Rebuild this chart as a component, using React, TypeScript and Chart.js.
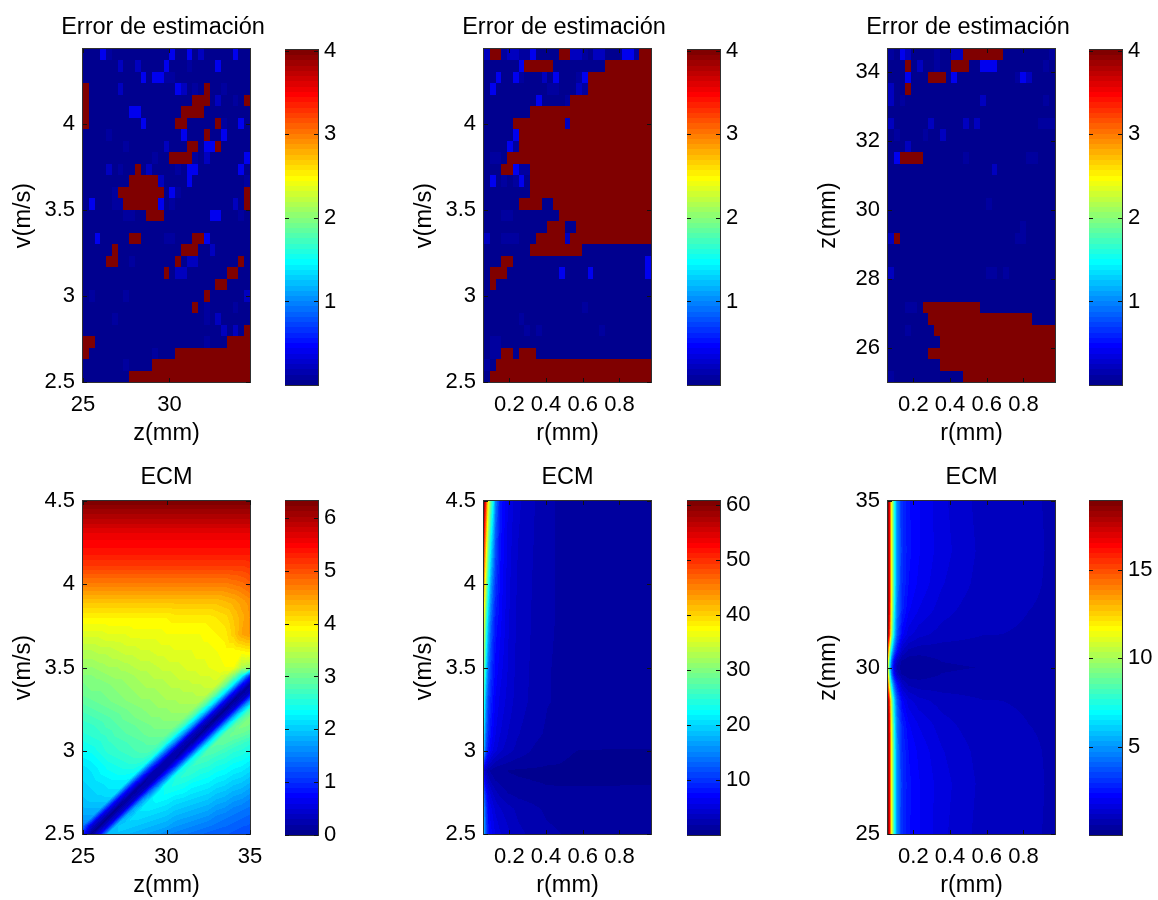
import React, { useEffect, useRef } from "react";
import { Chart, registerables } from "chart.js";
Chart.register(...registerables);

const FONT = "'Liberation Sans', Arial, sans-serif";

// ---------- values ----------
const KIND_VALUES: Record<string, number> = { f: 0.08, m: 0.22, b: 0.42, R: 4 };
const ERROR_BASE = 0.02;

// top row first; "col+kind" or "from:to+kind"
const errorVZ = [
  "3b 4f 15b 18b 20m 26b", "6m 9m 14b 18f 23b", "10b 12b 13b 14f 15f", "0R 6m 16b 17m 19f 21R 24f",
  "0R 19:21R 23m 26f 28R", "0R 8b 9b 17:20R", "0R 10b 16R 17R 23R 24f 27b", "4f 17b 21R 24b",
  "7f 14m 18R 19R 21b 22b 23R", "12f 15:18R 19f 21m 28b", "4m 6f 9R 11m 16f 18b 19b 27b", "8:12R 13m 18b 28f",
  "5f 6:13R 15b 16f 28R", "1b 5f 6f 7:12R 13b 15f 26m 28R", "7f 8f 11:13R 22b 23b 27f", "",
  "2b 8R 9R 14f 15f 19R 20R 21b", "5R 17:19R 22m", "4R 5R 8f 16R 18m 19m 27R", "14R 16m 17m 25R 26R",
  "23R 24R", "1f 7f 21R 28m", "19R 21f 26f", "5f 21f 23m", "24m 26m 28R", "0R 1R 21f 25:28R",
  "0R 12f 16:28R", "7f 12:28R", "8:28R",
];
const errorVR = [
  "0m 1R 2R 3f 4m 5m 6f 7f 8b 13R 14R 15m 16m 17f 19m 20m 24b 25b 26f 27R 28R", "6b 7:11R 21:28R",
  "2b 5b 6f 10m 12b 16f 17b 18:28R", "1b 11f 12f 16m 17f 18:28R", "9b 14f 15:28R", "8:28R", "5:13R 14m 15:28R",
  "5b 6:28R", "4b 5f 6:28R", "1f 2f 4:28R", "3R 4R 5b 6f 7f 8:28R", "1b 3f 5f 6b 8:28R", "8:28R", "6:9R 12:28R",
  "3f 4f 13:28R", "11:13R 16:28R", "0m 3f 4f 5f 9:13R 14m 15:28R", "8:16R", "3R 4R 28b", "1:3R 13b 18b 28b", "1R",
  "", "17f", "6f", "7f 9f 20f", "1f 2f", "1f 2f 3R 4R 6:8R", "0f 2:28R", "1:28R",
];
const errorZR = [
  "0f 2b 3m 8f 11m 12m 13:19R 28f", "3R 5m 8f 11:13R 16b 17b 18b 27f", "3b 7:9R 11b 22f 23b 24m", "0m 3R",
  "0m 2f 16m 27f", "", "0m 7m 13m 15m 26f 27f 28f", "1f 6f 9m", "3m", "1b 2:5R 13f 24f 25f", "18m", "", "", "17f", "",
  "23f", "0m 1R 22f 23f", "", "", "0m 17f 18f 20f", "", "", "3f 4f 6:15R", "7:24R", "3f 8:28R", "9:28R", "7:28R",
  "9:28R", "0f 13:28R",
];

const ecmZ = [25, 25.5, 26, 26.5, 27, 27.5, 28, 28.5, 29, 29.5, 30, 30.5, 31, 31.5, 32, 32.5, 33, 33.5, 34, 34.5, 35];
const ecmV = [2.5, 2.55, 2.6, 2.65, 2.7, 2.75, 2.8, 2.85, 2.9, 2.95, 3, 3.05, 3.1, 3.15, 3.2, 3.25, 3.3, 3.35, 3.4, 3.45, 3.5, 3.6, 3.7, 3.8, 3.9, 4, 4.1, 4.2, 4.3, 4.4, 4.5];
const ecmVZ = [
  [0.9, 0.06, 0.7, 1.95, 1.95, 1.9, 1.85, 1.8, 1.75, 1.7, 1.6, 1.55, 1.5, 1.45, 1.4, 1.35, 1.3, 1.3, 1.25, 1.2, 1.2],
  [1.5, 0.5, 0.03, 0.6, 1.95, 2.05, 2.0, 1.95, 1.9, 1.85, 1.8, 1.7, 1.65, 1.6, 1.55, 1.5, 1.45, 1.4, 1.35, 1.3, 1.27],
  [1.75, 1.75, 0.55, 0.02, 0.52, 1.85, 2.1, 2.1, 2.05, 2.0, 1.95, 1.85, 1.8, 1.75, 1.7, 1.65, 1.55, 1.5, 1.45, 1.4, 1.35],
  [1.85, 1.85, 1.85, 0.65, 0.05, 0.44, 1.75, 2.2, 2.2, 2.15, 2.1, 2.0, 1.95, 1.9, 1.85, 1.8, 1.7, 1.65, 1.55, 1.5, 1.45],
  [1.95, 2.0, 2.0, 2.0, 0.72, 0.09, 0.4, 1.65, 2.25, 2.3, 2.25, 2.15, 2.1, 2.05, 2.0, 1.95, 1.85, 1.8, 1.7, 1.65, 1.55],
  [2.0, 2.05, 2.1, 2.15, 2.15, 0.82, 0.12, 0.35, 1.5, 2.3, 2.4, 2.35, 2.3, 2.2, 2.15, 2.1, 2.0, 1.95, 1.85, 1.8, 1.7],
  [2.05, 2.1, 2.15, 2.2, 2.2, 2.2, 0.9, 0.16, 0.3, 1.35, 2.4, 2.5, 2.45, 2.35, 2.3, 2.25, 2.15, 2.1, 2.0, 1.95, 1.85],
  [2.1, 2.15, 2.25, 2.3, 2.35, 2.35, 2.3, 1.05, 0.2, 0.26, 1.25, 2.45, 2.6, 2.55, 2.45, 2.4, 2.3, 2.25, 2.15, 2.1, 2.0],
  [2.15, 2.2, 2.3, 2.4, 2.45, 2.5, 2.5, 2.4, 1.15, 0.24, 0.23, 1.12, 2.4, 2.65, 2.6, 2.55, 2.45, 2.4, 2.3, 2.25, 2.15],
  [2.25, 2.3, 2.4, 2.5, 2.55, 2.6, 2.65, 2.65, 2.5, 1.3, 0.27, 0.19, 1.0, 2.35, 2.75, 2.7, 2.6, 2.55, 2.45, 2.4, 2.3],
  [2.35, 2.4, 2.5, 2.6, 2.65, 2.7, 2.75, 2.8, 2.8, 2.55, 1.4, 0.31, 0.15, 0.88, 2.25, 2.85, 2.8, 2.7, 2.6, 2.55, 2.45],
  [2.45, 2.5, 2.55, 2.65, 2.7, 2.75, 2.8, 2.85, 2.9, 2.9, 2.54, 1.55, 0.36, 0.11, 0.8, 2.15, 2.9, 2.9, 2.8, 2.7, 2.6],
  [2.55, 2.6, 2.65, 2.7, 2.8, 2.85, 2.9, 2.95, 3.0, 3.0, 3.0, 2.6, 1.65, 0.4, 0.08, 0.7, 2.1, 2.9, 3.0, 2.95, 2.85],
  [2.6, 2.65, 2.7, 2.8, 2.85, 2.9, 2.95, 3.0, 3.05, 3.1, 3.1, 3.1, 2.7, 1.78, 0.45, 0.04, 0.62, 2.0, 2.86, 3.1, 3.05],
  [2.7, 2.75, 2.8, 2.85, 2.9, 3.0, 3.05, 3.1, 3.15, 3.15, 3.2, 3.2, 3.2, 2.78, 1.85, 0.54, 0.02, 0.54, 1.9, 2.78, 3.1],
  [2.8, 2.85, 2.9, 2.95, 3.0, 3.05, 3.1, 3.15, 3.2, 3.25, 3.25, 3.3, 3.3, 3.3, 2.84, 2.0, 0.62, 0.04, 0.47, 1.8, 2.7],
  [2.9, 2.95, 3.0, 3.05, 3.1, 3.15, 3.2, 3.25, 3.25, 3.3, 3.35, 3.35, 3.4, 3.4, 3.4, 2.92, 2.1, 0.7, 0.07, 0.4, 1.65],
  [3.0, 3.05, 3.05, 3.1, 3.15, 3.2, 3.25, 3.3, 3.3, 3.35, 3.4, 3.4, 3.45, 3.45, 3.5, 3.5, 3.0, 2.2, 0.78, 0.11, 0.36],
  [3.05, 3.1, 3.1, 3.15, 3.2, 3.25, 3.3, 3.35, 3.4, 3.4, 3.45, 3.5, 3.5, 3.55, 3.55, 3.6, 3.6, 3.08, 2.3, 0.88, 0.15],
  [3.15, 3.15, 3.2, 3.25, 3.3, 3.3, 3.35, 3.4, 3.45, 3.5, 3.5, 3.55, 3.6, 3.6, 3.65, 3.65, 3.7, 3.6, 3.14, 2.4, 1.0],
  [3.25, 3.25, 3.3, 3.35, 3.35, 3.4, 3.45, 3.5, 3.5, 3.55, 3.6, 3.6, 3.65, 3.7, 3.7, 3.75, 3.8, 3.85, 3.85, 3.4, 3.3],
  [3.45, 3.45, 3.5, 3.5, 3.55, 3.6, 3.6, 3.65, 3.65, 3.7, 3.7, 3.75, 3.75, 3.75, 3.8, 3.8, 3.85, 3.9, 3.9, 3.95, 4.0],
  [3.7, 3.7, 3.7, 3.75, 3.75, 3.75, 3.8, 3.8, 3.8, 3.8, 3.85, 3.85, 3.85, 3.85, 3.85, 3.9, 3.95, 4.0, 4.2, 4.45, 4.55],
  [3.95, 3.95, 3.95, 3.95, 3.95, 3.95, 3.95, 3.95, 3.95, 3.95, 3.95, 4.0, 4.0, 4.0, 4.0, 4.0, 4.05, 4.1, 4.25, 4.4, 4.55],
  [4.3, 4.3, 4.3, 4.3, 4.3, 4.3, 4.3, 4.3, 4.3, 4.3, 4.3, 4.3, 4.3, 4.3, 4.3, 4.3, 4.3, 4.35, 4.4, 4.5, 4.6],
  [4.7, 4.7, 4.7, 4.7, 4.7, 4.7, 4.7, 4.7, 4.7, 4.7, 4.7, 4.7, 4.7, 4.7, 4.7, 4.7, 4.7, 4.7, 4.75, 4.8, 4.9],
  [5.1, 5.1, 5.1, 5.1, 5.1, 5.1, 5.1, 5.1, 5.1, 5.1, 5.1, 5.1, 5.1, 5.1, 5.1, 5.1, 5.1, 5.1, 5.1, 5.1, 5.15],
  [5.4, 5.4, 5.4, 5.4, 5.4, 5.4, 5.4, 5.4, 5.4, 5.4, 5.4, 5.4, 5.4, 5.4, 5.4, 5.4, 5.4, 5.4, 5.4, 5.4, 5.4],
  [5.6, 5.6, 5.6, 5.6, 5.6, 5.6, 5.6, 5.6, 5.6, 5.6, 5.6, 5.6, 5.6, 5.6, 5.6, 5.6, 5.6, 5.6, 5.6, 5.6, 5.6],
  [5.95, 5.95, 5.95, 5.95, 5.95, 5.95, 5.95, 5.95, 5.95, 5.95, 5.95, 5.95, 5.95, 5.95, 5.95, 5.95, 5.95, 5.95, 5.95, 5.95, 5.95],
  [6.3, 6.3, 6.3, 6.3, 6.3, 6.3, 6.3, 6.3, 6.3, 6.3, 6.3, 6.3, 6.3, 6.3, 6.3, 6.3, 6.3, 6.3, 6.3, 6.3, 6.3],
];

const ecm2R = [0.062, 0.073, 0.0855, 0.0996, 0.1128, 0.125, 0.1486, 0.1956, 0.2474, 0.4074, 0.5956, 0.972];
const ecm2V = [2.5, 2.65, 2.75, 2.82, 2.88, 2.92, 3, 3.1, 3.3, 3.5, 3.75, 4, 4.25, 4.5];
const ecmVR = [
  [18, 11.5, 8, 7, 6.3, 5.6, 4.9, 4, 3.1, 2.1, 1.6, 1.5],
  [16, 10.5, 7.2, 6, 5.2, 4.5, 3.9, 3.2, 2.6, 1.7, 1.4, 1.4],
  [12, 8, 5.5, 4.4, 3.6, 3.1, 2.5, 1.8, 1.5, 1.1, 1.05, 1.05],
  [8, 5, 3.5, 2.6, 2.2, 1.9, 1.6, 1.2, 1.05, 0.85, 0.85, 0.9],
  [5, 3.2, 2.2, 1.7, 1.4, 1.2, 1.1, 0.9, 0.8, 0.75, 0.7, 0.7],
  [9, 6, 4.2, 3.4, 2.8, 2.4, 2.1, 1.7, 1.4, 1.0, 0.85, 0.85],
  [18, 11, 8, 6.5, 5.5, 5, 4, 3.2, 2.5, 1.1, 0.92, 0.9],
  [21, 13, 9.5, 7.5, 6.5, 5.7, 4.8, 3.7, 2.9, 1.7, 1.4, 1.3],
  [25, 16, 11, 9, 7.5, 6.5, 5.5, 4.3, 3.3, 1.95, 1.5, 1.4],
  [30, 21, 14, 10.5, 8.5, 7.3, 6.2, 4.6, 3.4, 1.95, 1.5, 1.4],
  [36, 26, 18, 13, 10, 8, 7, 4.8, 3.5, 2.0, 1.5, 1.4],
  [44, 33, 24, 17, 13, 10, 7.5, 5, 3.6, 2.0, 1.5, 1.4],
  [52, 41, 30, 22, 17, 12, 8, 5.2, 3.8, 2.0, 1.5, 1.4],
  [60, 50, 37, 28, 22, 15, 8.5, 5.5, 4, 2.0, 1.5, 1.4],
];

const ecm3R = [0.062, 0.0714, 0.0799, 0.0893, 0.0987, 0.111, 0.1382, 0.1749, 0.2295, 0.3566, 0.5749, 0.972];
const ecm3Z = [25, 26.5, 27.5, 28.3, 29, 29.5, 29.8, 30, 30.2, 30.5, 31, 31.7, 32.5, 33.5, 35];
const ecmZR = [
  [19, 16.5, 11.8, 9.5, 7, 4.7, 3, 2.4, 2.1, 1.55, 1.05, 0.85],
  [19, 16.5, 11.8, 9.5, 7, 4.7, 3.1, 2.45, 2.1, 1.6, 1.1, 0.85],
  [19, 16.5, 11.8, 9.5, 7, 4.7, 3, 2.35, 2.0, 1.5, 1.05, 0.85],
  [19, 16, 11.5, 9, 6.5, 4.5, 2.8, 2.1, 1.75, 1.3, 0.95, 0.85],
  [18.5, 15, 10.5, 8, 5.8, 3.9, 2.2, 1.6, 1.3, 1.05, 0.9, 0.85],
  [15, 10, 7, 5, 3.5, 2.4, 1.2, 0.8, 0.7, 0.72, 0.72, 0.8],
  [12.5, 7.8, 4.8, 3, 1.9, 1.1, 0.55, 0.42, 0.45, 0.6, 0.65, 0.72],
  [11.5, 7, 4, 2.4, 1.4, 0.8, 0.4, 0.3, 0.38, 0.55, 0.6, 0.7],
  [12.5, 7.8, 4.8, 3, 1.9, 1.1, 0.55, 0.42, 0.45, 0.6, 0.65, 0.72],
  [15, 10, 7, 5, 3.5, 2.4, 1.2, 0.8, 0.7, 0.72, 0.72, 0.8],
  [18.5, 15, 10.5, 8, 5.8, 3.9, 2.2, 1.6, 1.3, 1.05, 0.9, 0.85],
  [19, 16, 11.5, 9, 6.5, 4.5, 2.8, 2.1, 1.75, 1.3, 0.95, 0.85],
  [19, 16.5, 11.8, 9.5, 7, 4.7, 3, 2.35, 2.0, 1.5, 1.05, 0.85],
  [19, 16.5, 11.8, 9.5, 7, 4.7, 3.1, 2.45, 2.1, 1.6, 1.1, 0.85],
  [19, 16.5, 11.8, 9.5, 7, 4.7, 3, 2.4, 2.1, 1.55, 1.05, 0.85],
];

const colorLevels = [
  0, 1, 2, 3, 4, 5, 6, 7, 8, 9, 10, 11, 12, 13, 14, 15, 16, 17, 18, 19, 20, 21, 22, 23, 24, 25, 26, 27, 28, 29, 30, 31,
  32, 33, 34, 35, 36, 37, 38, 39, 40, 41, 42, 43, 44, 45, 46, 47, 48, 49, 50, 51, 52, 53, 54, 55, 56, 57, 58, 59, 60, 61, 62, 63,
];

const ticksZ5 = [25, 30];
const ticksZ = [25, 30, 35];
const ticksR = [0.2, 0.4, 0.6, 0.8];
const ticksV = [2.5, 3, 3.5, 4];
const ticksVfull = [2.5, 3, 3.5, 4, 4.5];
const ticksZtop = [26, 28, 30, 32, 34];

const barTicks4 = [1, 2, 3, 4];
const barTicksA = [0, 1, 2, 3, 4, 5, 6];
const barTicksB = [10, 20, 30, 40, 50, 60];
const barTicksC = [5, 10, 15];

// ---------- helpers ----------
const clamp01 = (t: number) => Math.max(0, Math.min(1, t));
const JET: string[] = colorLevels.map((k) => {
  const t = (k + 1) / 64;
  const c = (o: number) => Math.round(255 * clamp01(1.5 - Math.abs(4 * t - o)));
  return `rgb(${c(3)},${c(2)},${c(1)})`;
});
const jetFor = (v: number, lo: number, hi: number) =>
  JET[Math.max(0, Math.min(63, Math.floor(((v - lo) / (hi - lo)) * 64)))];

function parseError(rows: string[]): number[][] {
  return rows.map((row) => {
    const out: number[] = new Array(29).fill(ERROR_BASE);
    row.split(" ").filter(Boolean).forEach((tok) => {
      const m = tok.match(/^(\d+)(?::(\d+))?([fmbR])$/)!;
      const a = +m[1];
      const b = m[2] ? +m[2] : a;
      for (let c = a; c <= b; c++) out[c] = KIND_VALUES[m[3]];
    });
    return out;
  });
}

const edges = (lo: number, hi: number, n: number) => Array.from({ length: n + 1 }, (_, k) => lo + ((hi - lo) * k) / n);

type Mode = "flat" | "smooth" | "diagonal";
type Field = { mode: Mode; xs: number[]; ys: number[]; lo: number; hi: number };

// Draws the points of dataset 0 as heatmap cells through the chart's scales.
function fieldPlugin(f: Field) {
  return {
    id: "field",
    beforeDatasetsDraw(chart: any) {
      const { ctx, scales, chartArea } = chart;
      const pts: any[] = chart.data.datasets[0].data;
      const px = f.xs.map((v) => scales.x.getPixelForValue(v));
      const py = f.ys.map((v) => scales.y.getPixelForValue(v));
      ctx.save();
      ctx.beginPath();
      ctx.rect(chartArea.left, chartArea.top, chartArea.right - chartArea.left, chartArea.bottom - chartArea.top);
      ctx.clip();
      if (f.mode === "flat") {
        const nx = f.xs.length - 1;
        pts.forEach((p, k) => {
          const i = k % nx;
          const j = Math.floor(k / nx);
          const x0 = Math.round(px[i]);
          const x1 = Math.round(px[i + 1]);
          const y0 = Math.round(py[j]);
          const y1 = Math.round(py[j + 1]);
          ctx.fillStyle = jetFor(p.v, f.lo, f.hi);
          ctx.fillRect(x0, Math.min(y0, y1), x1 - x0, Math.abs(y1 - y0));
        });
      } else {
        const nx = f.xs.length;
        const at = (i: number, j: number) => pts[j * nx + i].v;
        for (let j = 0; j < f.ys.length - 1; j++) {
          for (let i = 0; i < nx - 1; i++) {
            const xa = Math.round(px[i]);
            const xb = Math.round(px[i + 1]);
            const yBottom = Math.round(py[j]);
            const yTop = Math.round(py[j + 1]);
            const a00 = at(i, j), a10 = at(i + 1, j), a01 = at(i, j + 1), a11 = at(i + 1, j + 1);
            for (let Y = yTop; Y < yBottom; Y++) {
              const s = (py[j] - (Y + 0.5)) / (py[j] - py[j + 1]);
              for (let X = xa; X < xb; X++) {
                const t = (X + 0.5 - px[i]) / (px[i + 1] - px[i]);
                let v: number;
                if (f.mode === "diagonal") {
                  // two triangles split along the rising diagonal, so the valley stays continuous
                  v = t >= s ? a00 + t * (a10 - a00) + s * (a11 - a10) : a00 + s * (a01 - a00) + t * (a11 - a01);
                } else {
                  v = (1 - s) * ((1 - t) * a00 + t * a10) + s * ((1 - t) * a01 + t * a11);
                }
                ctx.fillStyle = jetFor(v, f.lo, f.hi);
                ctx.fillRect(X, Y, 1, 1);
              }
            }
          }
        }
      }
      ctx.restore();
    },
    afterDatasetsDraw(chart: any) {
      const { ctx, scales, chartArea: a } = chart;
      ctx.save();
      ctx.strokeStyle = "#303030";
      ctx.lineWidth = 1;
      ctx.strokeRect(a.left - 0.5, a.top - 0.5, a.right - a.left + 1, a.bottom - a.top + 1);
      ctx.strokeStyle = "#111";
      ctx.beginPath();
      const len = 4;
      scales.y.ticks.forEach((t: any) => {
        const y = Math.round(scales.y.getPixelForValue(t.value)) + 0.5;
        ctx.moveTo(a.left, y);
        ctx.lineTo(a.left + len, y);
        ctx.moveTo(a.right, y);
        ctx.lineTo(a.right - len, y);
      });
      if (scales.x.options.display) {
        scales.x.ticks.forEach((t: any) => {
          const x = Math.round(scales.x.getPixelForValue(t.value)) + 0.5;
          ctx.moveTo(x, a.bottom);
          ctx.lineTo(x, a.bottom - len);
          ctx.moveTo(x, a.top);
          ctx.lineTo(x, a.top + len);
        });
      }
      ctx.stroke();
      ctx.restore();
    },
  };
}

const TICK_FONT = { family: FONT, size: 22 };
const LABEL_FONT = { family: FONT, size: 23.5, lineHeight: "24px" };

type Panel = {
  left: number; top: number; width: number; height: number;
  title: string; xLabel: string; yLabel: string;
  xs: number[]; ys: number[]; xTicks: number[]; yTicks: number[];
  mode: Mode; hi: number;
  points: { x: number; y: number; v: number }[];
};

function flatPoints(xs: number[], ys: number[], rows: number[][]) {
  // rows are listed top first; ys ascend
  const n = rows.length;
  const out: { x: number; y: number; v: number }[] = [];
  for (let j = 0; j < n; j++) {
    const row = rows[n - 1 - j];
    row.forEach((v, i) => out.push({ x: (xs[i] + xs[i + 1]) / 2, y: (ys[j] + ys[j + 1]) / 2, v }));
  }
  return out;
}
function smoothPoints(xs: number[], ys: number[], rows: number[][]) {
  const out: { x: number; y: number; v: number }[] = [];
  rows.forEach((row, j) => row.forEach((v, i) => out.push({ x: xs[i], y: ys[j], v })));
  return out;
}

const R_MIN = 0.062, R_MAX = 0.972;
const rEdges = edges(R_MIN, R_MAX, 29);
const zEdges = edges(25, 34.667, 29);
const vEdges = edges(2.5, 4.435, 29);
const zyEdges = edges(25, 34.68, 29);

const PANELS: Panel[] = [
  { left: 83, top: 49, width: 167, height: 333, title: "Error de estimación", xLabel: "z(mm)", yLabel: "v(m/s)", xs: zEdges, ys: vEdges, xTicks: ticksZ5, yTicks: ticksV, mode: "flat", hi: 4, points: flatPoints(zEdges, vEdges, parseError(errorVZ)) },
  { left: 484, top: 49, width: 167, height: 333, title: "Error de estimación", xLabel: "r(mm)", yLabel: "v(m/s)", xs: rEdges, ys: vEdges, xTicks: ticksR, yTicks: ticksV, mode: "flat", hi: 4, points: flatPoints(rEdges, vEdges, parseError(errorVR)) },
  { left: 888, top: 49, width: 167, height: 333, title: "Error de estimación", xLabel: "r(mm)", yLabel: "z(mm)", xs: rEdges, ys: zyEdges, xTicks: ticksR, yTicks: ticksZtop, mode: "flat", hi: 4, points: flatPoints(rEdges, zyEdges, parseError(errorZR)) },
  { left: 83, top: 501, width: 167, height: 333, title: "ECM", xLabel: "z(mm)", yLabel: "v(m/s)", xs: ecmZ, ys: ecmV, xTicks: ticksZ, yTicks: ticksVfull, mode: "diagonal", hi: 6.32, points: smoothPoints(ecmZ, ecmV, ecmVZ) },
  { left: 484, top: 501, width: 167, height: 333, title: "ECM", xLabel: "r(mm)", yLabel: "v(m/s)", xs: ecm2R, ys: ecm2V, xTicks: ticksR, yTicks: ticksVfull, mode: "smooth", hi: 60.7, points: smoothPoints(ecm2R, ecm2V, ecmVR) },
  { left: 888, top: 501, width: 167, height: 333, title: "ECM", xLabel: "r(mm)", yLabel: "z(mm)", xs: ecm3R, ys: ecm3Z, xTicks: ticksR, yTicks: ticksZ, mode: "smooth", hi: 18.9, points: smoothPoints(ecm3R, ecm3Z, ecmZR) },
];

const BARS = [
  { left: 285, top: 50, height: 335, hi: 4.01, ticks: barTicks4 },
  { left: 687, top: 50, height: 335, hi: 4.01, ticks: barTicks4 },
  { left: 1089, top: 50, height: 335, hi: 4.01, ticks: barTicks4 },
  { left: 285, top: 501, height: 334, hi: 6.32, ticks: barTicksA },
  { left: 687, top: 501, height: 334, hi: 60.7, ticks: barTicksB },
  { left: 1089, top: 501, height: 334, hi: 18.9, ticks: barTicksC },
];

const AXIS_W = 83;
const AXIS_H = 66;
const HEAD = 49;
const BAR_W = 33;
const BAR_AXIS = 46;
const BAR_PAD = 20;

// the canvas is wide enough on the right to centre the title where it stands
const rightPad = (p: Panel) => (p.title === "ECM" ? 83 : 76);

function panelBox(p: Panel) {
  return {
    left: p.left - AXIS_W,
    top: p.top - HEAD,
    width: AXIS_W + p.width + rightPad(p),
    height: HEAD + p.height + AXIS_H,
  };
}
function barBox(b: (typeof BARS)[number]) {
  return { left: b.left, top: b.top - BAR_PAD, width: BAR_W + BAR_AXIS, height: b.height + 2 * BAR_PAD };
}

function panelConfig(p: Panel): any {
  const setTicks = (list: number[]) => (s: any) => {
    s.ticks = list.map((value) => ({ value }));
  };
  const titleTop = p.title === "ECM" ? 14 : 16;
  return {
    type: "scatter",
    data: { datasets: [{ label: p.title, data: p.points, pointRadius: 0, showLine: false }] },
    options: {
      animation: false,
      responsive: false,
      devicePixelRatio: 1,
      layout: { padding: 0 },
      plugins: {
        legend: { display: false },
        tooltip: { enabled: false },
        title: {
          display: true,
          text: p.title,
          color: "#000",
          font: { family: FONT, size: 23.5, weight: "normal", lineHeight: "24px" },
          padding: { top: titleTop, bottom: HEAD - 24 - titleTop },
        },
      },
      scales: {
        x: {
          type: "linear",
          min: p.xs[0],
          max: p.xs[p.xs.length - 1],
          afterBuildTicks: setTicks(p.xTicks),
          afterFit: (s: any) => { s.height = AXIS_H; },
          grid: { display: false, drawTicks: false },
          border: { display: false },
          ticks: { autoSkip: false, maxRotation: 0, minRotation: 0, padding: 10, color: "#000", font: TICK_FONT, callback: (v: number) => String(v) },
          title: { display: true, text: p.xLabel, color: "#000", font: LABEL_FONT, padding: { top: 0, bottom: 2 } },
        },
        y: {
          type: "linear",
          min: p.ys[0],
          max: p.ys[p.ys.length - 1],
          afterBuildTicks: setTicks(p.yTicks),
          afterFit: (s: any) => { s.width = AXIS_W; },
          grid: { display: false, drawTicks: false },
          border: { display: false },
          ticks: { autoSkip: false, padding: 8, color: "#000", font: TICK_FONT, callback: (v: number) => String(v) },
          title: { display: true, text: p.yLabel, color: "#000", font: LABEL_FONT, padding: { top: 12, bottom: 0 } },
        },
        // empty right-hand axis: holds the plot area clear of the canvas edge without narrowing the title's box
        spacer: {
          type: "linear",
          position: "right",
          min: 0,
          max: 1,
          afterFit: (s: any) => { s.width = rightPad(p); },
          grid: { display: false, drawTicks: false },
          border: { display: false },
          ticks: { display: false },
        },
      },
    },
    plugins: [fieldPlugin({ mode: p.mode, xs: p.xs, ys: p.ys, lo: 0, hi: p.hi })],
  };
}

function barConfig(b: (typeof BARS)[number]): any {
  const ys = edges(0, b.hi, 64);
  const xs = [0, 1];
  const points = colorLevels.map((k) => ({ x: 0.5, y: (ys[k] + ys[k + 1]) / 2, v: (ys[k] + ys[k + 1]) / 2 }));
  return {
    type: "scatter",
    data: { datasets: [{ label: "colorbar", data: points, pointRadius: 0, showLine: false }] },
    options: {
      animation: false,
      responsive: false,
      devicePixelRatio: 1,
      layout: { padding: { left: 0, right: 0, top: BAR_PAD, bottom: BAR_PAD } },
      plugins: { legend: { display: false }, tooltip: { enabled: false } },
      scales: {
        x: { type: "linear", display: false, min: 0, max: 1 },
        y: {
          type: "linear",
          position: "right",
          min: 0,
          max: b.hi,
          afterBuildTicks: (s: any) => { s.ticks = b.ticks.map((value) => ({ value })); },
          afterFit: (s: any) => { s.width = BAR_AXIS; },
          grid: { display: false, drawTicks: false },
          border: { display: false },
          ticks: { autoSkip: false, padding: 6, color: "#000", font: TICK_FONT, callback: (v: number) => String(v) },
        },
      },
    },
    plugins: [fieldPlugin({ mode: "flat", xs, ys, lo: 0, hi: b.hi })],
  };
}

const BOXES = [...PANELS.map(panelBox), ...BARS.map(barBox)];
const CONFIGS = () => [...PANELS.map(panelConfig), ...BARS.map(barConfig)];

export default function App() {
  const refs = useRef<(HTMLCanvasElement | null)[]>([]);
  useEffect(() => {
    const charts = CONFIGS().map((cfg, i) => new Chart(refs.current[i] as HTMLCanvasElement, cfg));
    return () => charts.forEach((c) => c.destroy());
  }, []);
  return (
    <div style={{ position: "absolute", left: 0, top: 0, width: 1158, height: 900, background: "#fff", overflow: "hidden" }}>
      {BOXES.map((b, i) => (
        <canvas
          key={i}
          ref={(el) => { refs.current[i] = el; }}
          width={b.width}
          height={b.height}
          style={{ position: "absolute", left: b.left, top: b.top, width: b.width, height: b.height }}
        />
      ))}
    </div>
  );
}
